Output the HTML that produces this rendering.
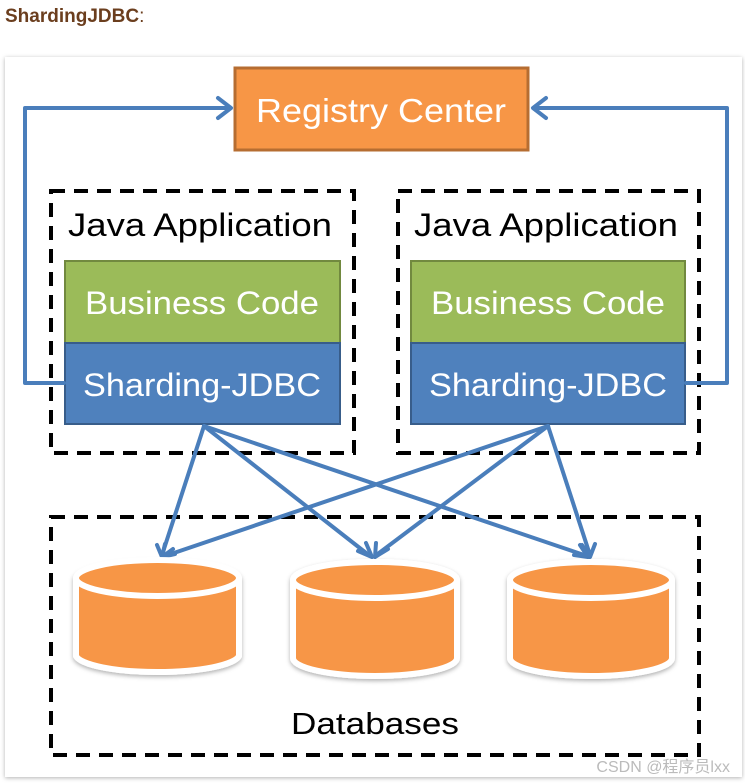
<!DOCTYPE html>
<html><head><meta charset="utf-8"><style>
body{margin:0;width:745px;height:783px;background:#fff;overflow:hidden;font-family:"Liberation Sans","Noto Sans CJK SC",sans-serif}
</style></head><body>
<svg width="745" height="783" viewBox="0 0 745 783" xmlns="http://www.w3.org/2000/svg" style="position:absolute;left:0;top:0">
<defs>
<filter id="sh" x="-5%" y="-5%" width="110%" height="110%"><feDropShadow dx="0" dy="1" stdDeviation="2" flood-color="#000" flood-opacity="0.3"/></filter>
<filter id="cs" x="-10%" y="-10%" width="120%" height="130%"><feDropShadow dx="0" dy="2" stdDeviation="2" flood-color="#000" flood-opacity="0.3"/></filter>
</defs>
<text x="5" y="22" font-size="19" font-weight="bold" fill="#6b3e1e">ShardingJDBC<tspan font-weight="normal">:</tspan></text>
<rect x="5" y="57" width="737" height="720" fill="#fff" filter="url(#sh)"/>
<g font-family="Liberation Sans, sans-serif">
<rect x="235" y="68" width="293" height="82" fill="#f79646" stroke="#b66d31" stroke-width="3"/>
<text x="381" y="122" font-size="33" fill="#fff" text-anchor="middle" textLength="250" lengthAdjust="spacingAndGlyphs">Registry Center</text>
<g fill="none" stroke="#000" stroke-width="4" stroke-dasharray="14,9">
<rect x="51" y="191" width="303" height="262"/>
<rect x="398" y="191" width="301" height="262"/>
<rect x="51" y="517" width="648" height="238"/>
</g>
<text x="68" y="236" font-size="32" fill="#000" textLength="264" lengthAdjust="spacingAndGlyphs">Java Application</text>
<text x="414" y="236" font-size="32" fill="#000" textLength="264" lengthAdjust="spacingAndGlyphs">Java Application</text>
<rect x="65" y="261" width="275" height="82" fill="#9bbb59" stroke="#71893f" stroke-width="2"/>
<rect x="65" y="343" width="275" height="81" fill="#4f81bd" stroke="#385d8a" stroke-width="2"/>
<rect x="411" y="261" width="274" height="82" fill="#9bbb59" stroke="#71893f" stroke-width="2"/>
<rect x="411" y="343" width="274" height="81" fill="#4f81bd" stroke="#385d8a" stroke-width="2"/>
<g font-size="32" fill="#fff" text-anchor="middle">
<text x="202" y="314" textLength="234" lengthAdjust="spacingAndGlyphs">Business Code</text>
<text x="202" y="396" textLength="238" lengthAdjust="spacingAndGlyphs">Sharding-JDBC</text>
<text x="548" y="314" textLength="234" lengthAdjust="spacingAndGlyphs">Business Code</text>
<text x="548" y="396" textLength="238" lengthAdjust="spacingAndGlyphs">Sharding-JDBC</text>
</g>
<g fill="none" stroke="#4a7ebb" stroke-width="4" stroke-linecap="round" stroke-linejoin="round">
<polyline points="64,383 25,383 25,108 230,108"/>
<polyline points="218,98 231,108 218,118"/>
<polyline points="686,383 727,383 727,108 534,108"/>
<polyline points="546,98 533,108 546,118"/>
<line x1="204" y1="426" x2="162" y2="555"/>
<line x1="204" y1="426" x2="370" y2="556"/>
<line x1="204" y1="426" x2="587" y2="556"/>
<line x1="548" y1="426" x2="165" y2="556"/>
<line x1="548" y1="426" x2="375" y2="556"/>
<line x1="548" y1="426" x2="590" y2="555"/>
<polyline points="157,545 162,557 173,549"/>
<polyline points="358,551 372,557 366,543"/>
<polyline points="376,543 375,557 388,549"/>
<polyline points="574,555 588,557 580,545"/>
<polyline points="582,545 590,557 595,544"/>
<polyline points="165,544 162,557 175,554"/>
</g>
<g fill="#f79646" stroke="#fff" stroke-width="6">
<path filter="url(#cs)" d="M76,578 v78 a82,18 0 0 0 163,0 v-78 a82,18 0 0 0 -163,0 z"/>
<ellipse cx="157.5" cy="578" rx="81.5" ry="18"/>
<path filter="url(#cs)" d="M293,580 v78 a82,18 0 0 0 164,0 v-78 a82,18 0 0 0 -164,0 z"/>
<ellipse cx="375" cy="580" rx="82" ry="18"/>
<path filter="url(#cs)" d="M510,580 v78 a81,18 0 0 0 162,0 v-78 a81,18 0 0 0 -162,0 z"/>
<ellipse cx="591" cy="580" rx="81" ry="18"/>
</g>
<text x="375" y="734" font-size="31" fill="#000" text-anchor="middle" textLength="168" lengthAdjust="spacingAndGlyphs">Databases</text>
</g>
<text x="730" y="772" font-size="16" fill="#bbb" text-anchor="end" font-family="Liberation Sans, Noto Sans CJK SC, sans-serif">CSDN @程序员lxx</text>
</svg>
</body></html>
